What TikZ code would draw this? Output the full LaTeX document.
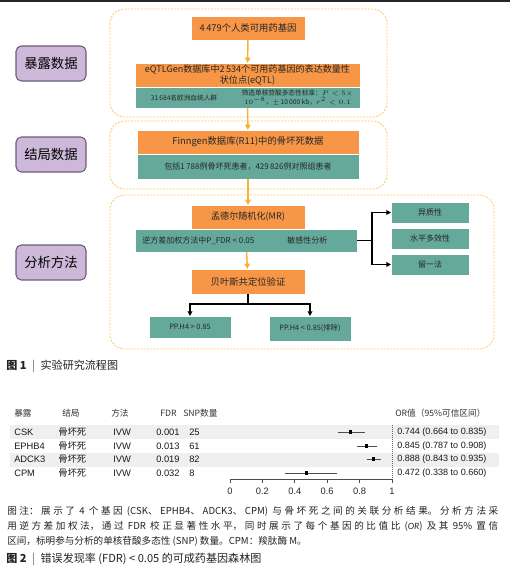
\documentclass[tikz,border=0pt]{standalone}
\usepackage{fontspec}
\setmainfont{Noto Sans CJK SC}
\newfontfamily\arialf{Liberation Sans}
\newfontfamily\calibf{Carlito}
\usetikzlibrary{arrows.meta, positioning, calc}
\XeTeXlinebreaklocale "zh"
\XeTeXlinebreakskip=0pt plus 1pt
\newcommand\capfill[1]{\vbox{\hsize=368.25pt\parindent=0pt\parfillskip=0pt\leavevmode#1\par}}

\definecolor{boxorange}{HTML}{F79646}
\definecolor{boxteal}{HTML}{65A99A}
\definecolor{grpline}{HTML}{FFC65C}
\definecolor{floworange}{HTML}{F8B133}
\definecolor{labelfill}{HTML}{CDB8DA}
\definecolor{labeldraw}{HTML}{6B5C7C}
\definecolor{rowshade}{HTML}{EFEFEF}
\definecolor{captext}{HTML}{222222}

\tikzset{
  obox/.style={rectangle, fill=boxorange, draw=white, line width=0.4pt, inner sep=1pt, outer sep=0pt, align=center, text=black!85},
  tbox/.style={rectangle, fill=boxteal, draw=white, line width=0.4pt, inner sep=1pt, outer sep=0pt, align=center, text=black!85},
  ttext/.style={inner sep=0pt, align=center, text=black!85},
  grpbox/.style={draw=grpline, dash pattern=on 1.5pt off 1pt, rounded corners=11pt, line width=0.6pt},
  stagebox/.style={rectangle, rounded corners=4pt, draw=labeldraw, fill=labelfill, line width=0.8pt, minimum width=52.5pt, minimum height=26.25pt, font=\fontsize{10}{12}\selectfont},
  flowarrow/.style={-{Triangle[length=4pt,width=4pt]}, draw=floworange, line width=1.1pt},
  karrow/.style={-{Triangle[length=3.5pt,width=3.5pt]}, line width=1.1pt},
  kline/.style={line width=1.1pt},
  fhead/.style={inner sep=0pt, anchor=west, text=black!80, font=\fontsize{6.5}{7}\selectfont},
  frow/.style={inner sep=0pt, anchor=west, text=black!90, font=\arialf\fontsize{7}{8}\selectfont},
  capline/.style={inner sep=0pt, anchor=west, text=captext, font=\fontsize{7.2}{9}\selectfont},
  captitle/.style={inner sep=0pt, anchor=west, text=captext, font=\fontsize{8.3}{10}\selectfont}
}

\begin{document}
\begin{tikzpicture}[x=0.75pt, y=-0.75pt, >=Latex]
  \useasboundingbox (0,0) rectangle (510,576);
  \draw[line width=0.9pt, black!85] (0,1) -- (510,1);

  % groups
  \draw[grpbox] (110,9) rectangle (387,117);
  \draw[grpbox] (110,121) rectangle (387,189);
  \draw[grpbox] (110,195) rectangle (494,349);

  % stage labels
  \node[stagebox] (expo) at (51,63.5) {暴露数据};
  \node[stagebox] (outc) at (51,154.5) {结局数据};
  \node[stagebox] (meth) at (51,262.5) {分析方法};

  % exposure
  \node[obox, minimum width=85.5pt, minimum height=18pt, font=\fontsize{7}{8}\selectfont] (gene) at (248,28) {4\,479个人类可用药基因};
  \node[obox, minimum width=168.75pt, minimum height=18pt, font=\fontsize{6.8}{8}\selectfont] (eqtlo) at (247.5,75)
  {eQTLGen数据库中2\,534个可用药基因的表达数量性\\状位点(eQTL)};
  \node[tbox, minimum width=168.75pt, minimum height=15.75pt, below=0pt of eqtlo] (eqtlt) {};
  \node[ttext, font=\fontsize{5}{6}\selectfont] (eurtxt) at (184,97.5) {31\,684名欧洲血统人群};
  \node[ttext, font=\fontsize{5}{6.5}\selectfont] (snptxt) at (297.5,97.5)
  {筛选单核苷酸多态性标准：$P<5\times$\\$10^{-8}$，$\pm$\,10\,000 kb，$r^2<0.1$};

  % outcome
  \node[obox, minimum width=166.5pt, minimum height=18pt, font=\fontsize{7}{8}\selectfont] (fino) at (248,142) {Finngen数据库(R11)中的骨坏死数据};
  \node[tbox, minimum width=166.5pt, minimum height=18.75pt, below=0pt of fino, font=\fontsize{6}{7}\selectfont] (fint)
  {包括1\,788例骨坏死患者，429\,826例对照组患者};

  % analysis
  \node[obox, minimum width=85.5pt, minimum height=18pt, font=\fontsize{6.8}{8}\selectfont] (mr) at (248,217) {孟德尔随机化(MR)};
  \node[tbox, minimum width=166.5pt, minimum height=17.25pt] (bar) at (246,240.5) {};
  \node[ttext, anchor=west, font=\fontsize{6}{7}\selectfont] (ivwtxt) at (142,240.5) {逆方差加权方法中P\_FDR < 0.05};
  \node[ttext, anchor=west, font=\fontsize{6}{7}\selectfont] (senstxt) at (287,240.5) {敏感性分析};
  \node[obox, minimum width=85.5pt, minimum height=18.75pt, font=\fontsize{7}{8}\selectfont] (bayes) at (248,281.5) {贝叶斯共定位验证};
  \node[tbox, minimum width=61.5pt, minimum height=16.5pt, font=\fontsize{5.5}{6.5}\selectfont] (ppyes) at (190,327) {PP.H4 > 0.85};
  \node[tbox, minimum width=61.5pt, minimum height=18.75pt, font=\fontsize{5.5}{6.5}\selectfont] (ppno) at (310,328.5) {PP.H4 < 0.85(排除)};
  \node[tbox, minimum width=58.5pt, minimum height=15.75pt, font=\fontsize{6}{7}\selectfont] (het) at (430,212.5) {异质性};
  \node[tbox, minimum width=58.5pt, minimum height=15.75pt, below=3.75pt of het, font=\fontsize{6}{7}\selectfont] (pleio) {水平多效性};
  \node[tbox, minimum width=58.5pt, minimum height=15.75pt, below=3.75pt of pleio, font=\fontsize{6}{7}\selectfont] (loo) {留一法};

  \coordinate (bsplit) at (248,304);
  \coordinate (rsplit) at (372,240.5);

  % connectors
  \draw[flowarrow] (gene) -- (eqtlo);
  \draw[flowarrow] (eqtlt) -- (fino);
  \draw[flowarrow] (fint) -- (mr);
  \draw[flowarrow] (bar) -- (bayes);
  \draw[karrow] (bayes.south) -- (bsplit) -| (ppyes.north);
  \draw[karrow] (bsplit) -| (ppno.north);
  \draw[kline] (bar.east) -- (rsplit);
  \draw[karrow] (rsplit) |- (het.west);
  \draw[karrow] (rsplit) |- (loo.west);

  \node[captitle] (cap1) at (6,366) {\textbf{图 1}\enspace{\color{black!60}|}\enspace 实验研究流程图};

  % forest plot
  \fill[rowshade] (10,425) rectangle (499,439);
  \fill[rowshade] (10,452.5) rectangle (499,466.5);
  \node[fhead] (hexp) at (14,413) {暴露};
  \node[fhead] (hout) at (62,413) {结局};
  \node[fhead] (hmeth) at (111,413) {方法};
  \node[fhead] (hfdr) at (160,413) {FDR};
  \node[fhead] (hsnp) at (183,413) {SNP数量};
  \node[fhead] (hor) at (395,413) {OR值（95\%可信区间）};
  \draw[densely dotted, black!60, line width=0.5pt] (392,425) -- (392,478);
  \foreach \g/\fdr/\snp/\orv/\lov/\hiv/\y [count=\i] in
    {CSK/0.001/25/0.744/0.664/0.835/432, EPHB4/0.013/61/0.845/0.787/0.908/446,
     ADCK3/0.019/82/0.888/0.843/0.935/459, CPM/0.032/8/0.472/0.338/0.660/473} {
    \node[frow] (gene\i) at (14,\y) {\g};
    \node[frow, font=\fontsize{7}{8}\selectfont] (outc\i) at (58,\y) {骨坏死};
    \node[frow] (ivw\i) at (113,\y) {IVW};
    \node[frow] (fdr\i) at (156,\y) {\fdr};
    \node[frow] (snp\i) at (189,\y) {\snp};
    \draw[black!70, line width=0.5pt] (230+162*\lov,\y) -- (230+162*\hiv,\y);
    \fill[black] (230+162*\orv-1.6,\y-1.6) rectangle (230+162*\orv+1.6,\y+1.6);
    \node[frow, font=\arialf\fontsize{6.8}{8}\selectfont] (ci\i) at (397,\y) {\orv\ (\lov\ to \hiv)};
  }
  \draw[black!70, line width=0.5pt] (230,479) -- (392,479);
  \foreach \t [count=\k] in {0,0.2,0.4,0.6,0.8,1} {
    \draw[black!70, line width=0.5pt] (230+162*\t,479) -- (230+162*\t,483);
    \node[inner sep=0pt, text=black!85, font=\arialf\fontsize{7}{8}\selectfont] (tick\k) at (230+162*\t,491) {\t};
  }

  % caption
  \node[capline] (note1) at (7,511) {\capfill{图注：展示了 4 个基因 (CSK、EPHB4、ADCK3、CPM) 与骨坏死之间的关联分析结果。分析方法采}};
  \node[capline] (note2) at (7,526) {\capfill{用逆方差加权法，通过 FDR 校正显著性水平，同时展示了每个基因的比值比 ({\calibf\itshape OR}) 及其 95\% 置信}};
  \node[capline] (note3) at (7,541) {区间，标明参与分析的单核苷酸多态性 (SNP) 数量。CPM：羧肽酶 M。};
  \node[captitle] (cap2) at (6,559) {\textbf{图 2}\enspace{\color{black!60}|}\enspace 错误发现率 (FDR) < 0.05 的可成药基因森林图};
\end{tikzpicture}
\end{document}
